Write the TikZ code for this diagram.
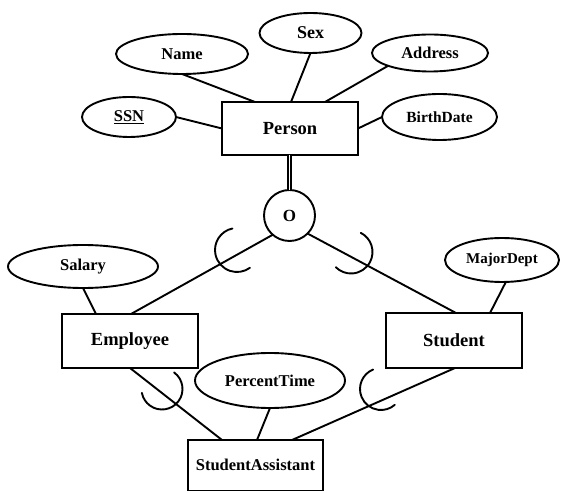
\documentclass[tikz,border=0pt]{standalone}
\usepackage{fontspec}
\setmainfont{Liberation Serif}
\usetikzlibrary{shapes.geometric,calc}

\tikzset{
  er/.style={line width=1.9pt},
  entity/.style={er, draw, rectangle, inner sep=0pt, outer sep=0pt,
    minimum width=136pt, font=\bfseries\fontsize{18.5}{20}\selectfont},
  attr/.style={er, draw, ellipse, inner sep=0pt, outer sep=0pt,
    font=\bfseries\fontsize{16.5}{18}\selectfont},
  link/.style={er, line cap=round},
  dlink/.style={line width=1.3pt, double, double distance=1.5pt},
  subsetarc/.style={er, line cap=round},
}

\begin{document}
\begin{tikzpicture}[x=1pt,y=1pt]
\useasboundingbox (0,0) rectangle (561,492);

% entities
\node[entity, minimum height=53pt] (person)   at (290,363.5) {Person};
\node[entity, minimum height=54pt] (employee) at (130,151)   {Employee};
\node[entity, minimum height=55pt] (student)  at (454,151.5) {Student};
\node[entity, minimum width=135pt, minimum height=50.5pt,
      font=\bfseries\fontsize{16.5}{18}\selectfont] (sa) at (255.5,26.75) {StudentAssistant};

% attributes
\node[attr, minimum width=132pt, minimum height=40pt] (name)    at (182,438)   {Name};
\node[attr, minimum width=102pt, minimum height=40pt,
      font=\bfseries\fontsize{18}{20}\selectfont] (sex) at (310.5,459) {Sex};
\node[attr, minimum width=116pt, minimum height=37pt] (address) at (430,439)   {Address};
\node[attr, minimum width=94pt,  minimum height=40pt] (ssn)     at (129,375)   {\underline{SSN}};
\node[attr, minimum width=115pt, minimum height=46pt,
      font=\bfseries\fontsize{15.5}{17}\selectfont] (birth) at (439.5,375) {BirthDate};
\node[attr, minimum width=150pt, minimum height=43pt] (salary)  at (83,225.5)  {Salary};
\node[attr, minimum width=114pt, minimum height=44pt,
      font=\bfseries\fontsize{15}{17}\selectfont] (major) at (502,232) {MajorDept};
\node[attr, minimum width=150pt, minimum height=55pt] (percent) at (270,111.5) {PercentTime};

% overlapping specialization circle
\node[er, draw, circle, inner sep=0pt, outer sep=0pt, minimum size=51pt,
      font=\bfseries\fontsize{17}{18}\selectfont] (circ) at (289.5,276.5) {O};

% attribute links
\draw[link] (name.south)   -- ($(person.north west)+(33,0)$);
\draw[link] (sex.south)    -- ($(person.north west)+(69,0)$);
\draw[link] (address.197)  -- ($(person.north west)+(103,0)$);
\draw[link] (ssn.east)     -- (person.west);
\draw[link] (birth.west)   -- (person.east);
\draw[link] (salary.south) -- ($(employee.north west)+(34,0)$);
\draw[link] (major.-80)    -- ($(student.north west)+(104,0)$);
\draw[link] (percent.south) -- ($(sa.north west)+(69,0)$);

% total participation of Person in the specialization
\draw[dlink] (circ.north |- person.south) -- (circ.north);

% specialization links
\draw[link] (circ.229) -- ($(employee.north west)+(69,0)$);
\draw[link] (circ.-45) -- ($(student.north west)+(70,0)$);
\draw[link] ($(employee.south west)+(68,0)$) -- ($(sa.north west)+(34,0)$);
\draw[link] ($(student.south west)+(69,0)$)  -- ($(sa.north west)+(104,0)$);

% subset symbols
\draw[subsetarc] ([shift={(237,242)}]102:22pt)  arc[start angle=102, end angle=306, radius=22pt];
\draw[subsetarc] ([shift={(351,240)}]63:21.5pt) arc[start angle=63, end angle=-135, radius=21.5pt];
\draw[subsetarc] ([shift={(162,103)}]54:20.5pt) arc[start angle=54, end angle=-169, radius=20.5pt];
\draw[subsetarc] ([shift={(381,103)}]112:21pt)  arc[start angle=112, end angle=311, radius=21pt];
\end{tikzpicture}
\end{document}
